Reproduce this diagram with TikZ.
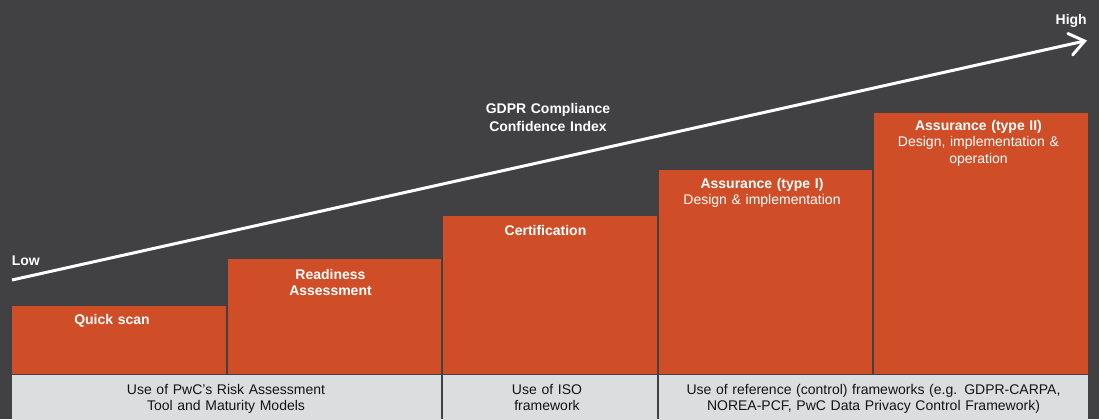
\documentclass[tikz,border=0pt]{standalone}
\usepackage{fontspec}
\setmainfont{Liberation Sans}
\usetikzlibrary{arrows.meta}
\definecolor{bg}{RGB}{65,64,66}
\definecolor{org}{RGB}{207,78,39}
\definecolor{lgray}{RGB}{220,221,222}
\definecolor{ink}{RGB}{20,20,20}
\begin{document}
\begin{tikzpicture}[x=0.75pt,y=-0.75pt,
  lbl/.style={font=\fontsize{10.5}{12.2}\selectfont, inner sep=0pt, align=center, text width=158pt, anchor=base},
  hdr/.style={lbl, text=white},
  foot/.style={lbl, text=ink},
  tag/.style={font=\bfseries\fontsize{10.5}{12.2}\selectfont, inner sep=0pt, text=white, anchor=base}]
\useasboundingbox (0,0) rectangle (1099,419);
\fill[bg] (0,0) rectangle (1099,419);
% step boxes
\fill[org] (12,306) rectangle (225.5,373.5);
\fill[org] (227.5,259.3) rectangle (441,373.5);
\fill[org] (443,215.5) rectangle (656.5,373.5);
\fill[org] (658.5,170.3) rectangle (872,373.5);
\fill[org] (874,113) rectangle (1087.8,373.5);
% footer boxes
\fill[lgray] (12,375) rectangle (441,419.5);
\fill[lgray] (443,375) rectangle (656.5,419.5);
\fill[lgray] (658.5,375) rectangle (1087.8,419.5);
% arrow
\coordinate (lo) at (12,280);
\coordinate (hi) at (1087,40.5);
\draw[white, line width=2.25pt, -{Straight Barb[length=11pt,width=16.5pt,line cap=round]}] (lo) -- (hi);
\node[tag, anchor=base west] (low) at (11.5,265) {Low};
\node[tag, anchor=base east] (high) at (1087,24) {High};
\node[hdr, font=\bfseries\fontsize{10.5}{14.2}\selectfont] (idx) at (548,113) {GDPR Compliance\\Confidence Index};
% step labels
\node[hdr, font=\bfseries\fontsize{10.5}{12.2}\selectfont] (qs) at (112,324.3) {Quick scan};
\node[hdr, font=\bfseries\fontsize{10.5}{12.2}\selectfont] (ra) at (330.5,279) {Readiness\\Assessment};
\node[hdr, font=\bfseries\fontsize{10.5}{12.2}\selectfont] (ce) at (545.5,235) {Certification};
\node[hdr] (a1) at (762,188.3) {\textbf{Assurance (type I)}\\Design \& implementation};
\node[hdr] (a2) at (978.5,130.7) {\textbf{Assurance (type II)}\\Design, implementation \&\\operation};
% footer labels
\node[foot, text width=300pt] (f1) at (226,394.3) {Use of PwC’s Risk Assessment\\Tool and Maturity Models};
\node[foot] (f2) at (547,394.3) {Use of ISO\\framework};
\node[foot, text width=315pt] (f3) at (873.5,394.3) {Use of reference (control) frameworks (e.g. GDPR-CARPA,\\NOREA-PCF, PwC Data Privacy Control Framework)};
\end{tikzpicture}
\end{document}
